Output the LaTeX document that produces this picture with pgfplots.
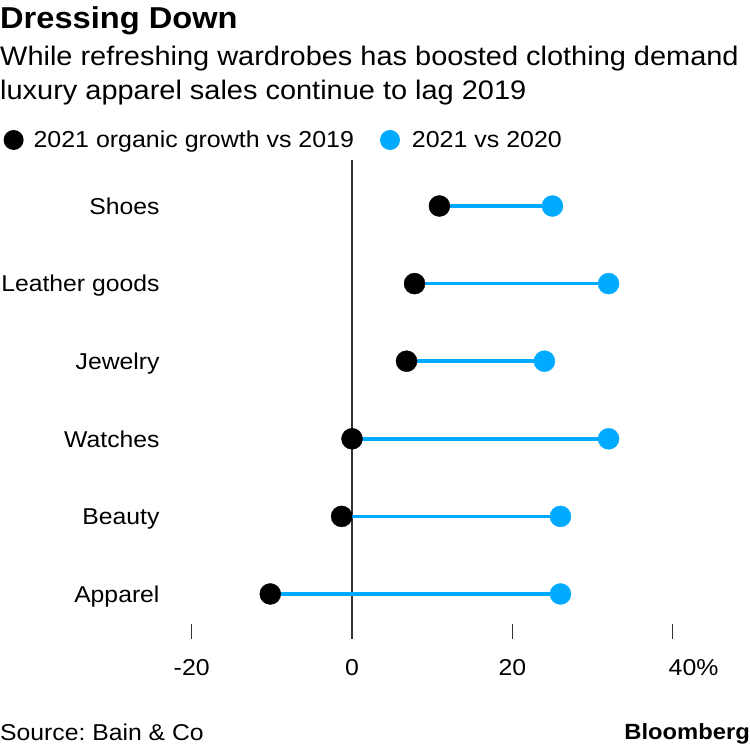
\documentclass[border=0pt]{standalone}
\usepackage{pgfplots}
\pgfplotsset{compat=1.18}
\usepackage{fontspec}
\setmainfont{Liberation Sans}[FakeStretch=1.08]
\definecolor{bblue}{HTML}{00AAFF}
\definecolor{zgray}{HTML}{333333}
\frenchspacing
\begin{document}
\begin{tikzpicture}
\useasboundingbox (0pt,0pt) rectangle (750pt,750pt);
\node[anchor=base west, inner sep=0pt, font=\bfseries\fontsize{30.2}{34}\selectfont] at (0pt,721pt) {Dressing Down};
\node[anchor=base west, inner sep=0pt, font=\fontsize{26.8}{32}\selectfont] at (0pt,684.3pt) {While refreshing wardrobes has boosted clothing demand};
\node[anchor=base west, inner sep=0pt, font=\fontsize{26.8}{32}\selectfont] at (0pt,650pt) {luxury apparel sales continue to lag 2019};
\node[anchor=base west, inner sep=0pt, font=\fontsize{22.9}{28}\selectfont] at (0pt,9.3pt) {Source: Bain \& Co};
\node[anchor=base east, inner sep=0pt, font=\bfseries\fontsize{22}{28}\selectfont] at (750pt,10pt) {Bloomberg};
\begin{axis}[
  at={(191.7pt,111pt)}, anchor=south west,
  scale only axis, width=481pt, height=479pt,
  xmin=-20, xmax=40, ymin=-0.58, ymax=5.593,
  clip=false,
  axis line style={draw=none},
  xtick={-20,0,20,40},
  xticklabels={-20,0,20,\makebox[0pt][l]{\hspace{-4pt}40\%}},
  xtick pos=left, ytick pos=left,
  tick align=inside,
  major tick length=15pt,
  xtick style={color=zgray, line width=1.3pt},
  ytick={0,1,2,3,4,5},
  yticklabels={Apparel,Beauty,Watches,Jewelry,Leather goods,Shoes},
  ytick style={draw=none},
  /pgf/number format/assume math mode=true,
  xticklabel style={inner sep=0pt, anchor=north, yshift=-20pt, font=\fontsize{23}{28}\selectfont},
  yticklabel style={inner sep=0pt, anchor=base east, xshift=-32pt, yshift=-8.2pt, font=\fontsize{22.9}{26}\selectfont},
  legend columns=2,
  legend style={draw=none, fill=none, inner sep=0pt, outer sep=0pt,
    at={(-0.391,1.0418)}, anchor=west,
    font=\fontsize{23.1}{28}\selectfont,
    nodes={inner sep=0pt},
    /tikz/every even column/.append style={column sep=26pt}},
]
\addplot[zgray, line width=1.6pt, forget plot] coordinates {(0,-0.58) (0,5.593)};
\addplot[bblue, line width=3.6pt, forget plot] coordinates {(10.9,5) (25.0,5)};
\addplot[bblue, line width=3.6pt, forget plot] coordinates {(7.8,4) (32.0,4)};
\addplot[bblue, line width=3.6pt, forget plot] coordinates {(6.8,3) (24.0,3)};
\addplot[bblue, line width=3.6pt, forget plot] coordinates {(0,2) (32.0,2)};
\addplot[bblue, line width=3.6pt, forget plot] coordinates {(-1.3,1) (26.0,1)};
\addplot[bblue, line width=3.6pt, forget plot] coordinates {(-10.2,0) (26.0,0)};
\addplot[black, only marks, mark=*, mark size=10.5pt, mark options={draw=none, fill=black},
  legend image code/.code={\fill[black, draw=none] (10pt,0pt) circle (10pt); \path[draw=none, fill=none] (0pt,-1pt) rectangle (30pt,1pt);}]
  coordinates {(10.9,5) (7.8,4) (6.8,3) (0,2) (-1.3,1) (-10.2,0)};
\addlegendentry{2021 organic growth vs 2019}
\addplot[bblue, only marks, mark=*, mark size=10.5pt, mark options={draw=none, fill=bblue},
  legend image code/.code={\fill[bblue, draw=none] (10pt,0pt) circle (10pt); \path[draw=none, fill=none] (0pt,-1pt) rectangle (32pt,1pt);}]
  coordinates {(25.0,5) (32.0,4) (24.0,3) (32.0,2) (26.0,1) (26.0,0)};
\addlegendentry{2021 vs 2020}
\end{axis}
\end{tikzpicture}
\end{document}
